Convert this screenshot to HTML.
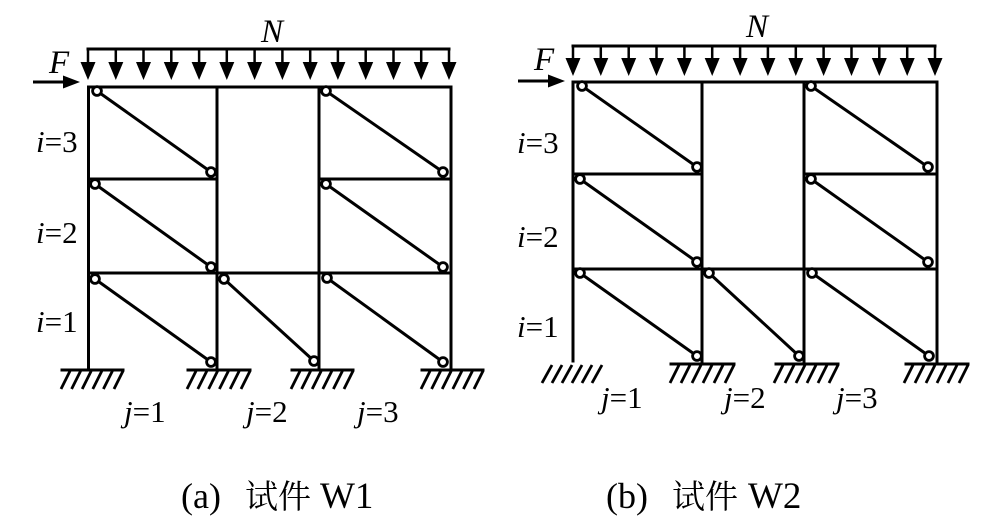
<!DOCTYPE html>
<html>
<head>
<meta charset="utf-8">
<style>
  html, body { margin:0; padding:0; background:#fff; }
  svg { display:block; }
  text { font-family: "Liberation Serif", "Noto Serif CJK SC", serif; fill:#000; }
  .cjk { font-family: "Noto Serif CJK SC", "Noto Sans CJK SC", serif; }
</style>
</head>
<body>
<svg width="1005" height="525" viewBox="0 0 1005 525" xmlns="http://www.w3.org/2000/svg">
  <!-- ================= LEFT FIGURE (W1) ================= -->
  <g stroke="#000" stroke-width="3" fill="none" stroke-linecap="square">
    <line x1="88" y1="49" x2="449" y2="49"/>
    <line x1="88.5" y1="87" x2="451" y2="87"/>
    <line x1="88.5" y1="87" x2="88.5" y2="369"/>
    <line x1="217" y1="87" x2="217" y2="369"/>
    <line x1="319" y1="87" x2="319" y2="369"/>
    <line x1="451" y1="87" x2="451" y2="369"/>
    <line x1="88.5" y1="179" x2="217" y2="179"/>
    <line x1="319" y1="179" x2="451" y2="179"/>
    <line x1="88.5" y1="273" x2="451" y2="273"/>
    <line x1="62" y1="370" x2="123" y2="370"/>
    <line x1="188" y1="370" x2="250" y2="370"/>
    <line x1="292" y1="370" x2="353" y2="370"/>
    <line x1="422" y1="370" x2="483" y2="370"/>
  </g>
  <g stroke="#000" stroke-width="2.5" fill="#000">
    <line x1="88" y1="49" x2="88" y2="66"/><polygon stroke="none" points="80.5,62 95.5,62 88,80"/>
    <line x1="115.8" y1="49" x2="115.8" y2="66"/><polygon stroke="none" points="108.3,62 123.3,62 115.8,80"/>
    <line x1="143.5" y1="49" x2="143.5" y2="66"/><polygon stroke="none" points="136,62 151,62 143.5,80"/>
    <line x1="171.3" y1="49" x2="171.3" y2="66"/><polygon stroke="none" points="163.8,62 178.8,62 171.3,80"/>
    <line x1="199.1" y1="49" x2="199.1" y2="66"/><polygon stroke="none" points="191.6,62 206.6,62 199.1,80"/>
    <line x1="226.8" y1="49" x2="226.8" y2="66"/><polygon stroke="none" points="219.3,62 234.3,62 226.8,80"/>
    <line x1="254.6" y1="49" x2="254.6" y2="66"/><polygon stroke="none" points="247.1,62 262.1,62 254.6,80"/>
    <line x1="282.4" y1="49" x2="282.4" y2="66"/><polygon stroke="none" points="274.9,62 289.9,62 282.4,80"/>
    <line x1="310.2" y1="49" x2="310.2" y2="66"/><polygon stroke="none" points="302.7,62 317.7,62 310.2,80"/>
    <line x1="337.9" y1="49" x2="337.9" y2="66"/><polygon stroke="none" points="330.4,62 345.4,62 337.9,80"/>
    <line x1="365.7" y1="49" x2="365.7" y2="66"/><polygon stroke="none" points="358.2,62 373.2,62 365.7,80"/>
    <line x1="393.5" y1="49" x2="393.5" y2="66"/><polygon stroke="none" points="386,62 401,62 393.5,80"/>
    <line x1="421.2" y1="49" x2="421.2" y2="66"/><polygon stroke="none" points="413.7,62 428.7,62 421.2,80"/>
    <line x1="449" y1="49" x2="449" y2="66"/><polygon stroke="none" points="441.5,62 456.5,62 449,80"/>
  </g>
  <line x1="33" y1="82" x2="68" y2="82" stroke="#000" stroke-width="3"/>
  <polygon points="63,75.5 63,88.5 80,82" fill="#000"/>
  <g stroke="#000" stroke-width="2.8">
    <line x1="70" y1="371" x2="61" y2="389"/><line x1="80.6" y1="371" x2="71.6" y2="389"/><line x1="91.2" y1="371" x2="82.2" y2="389"/><line x1="101.8" y1="371" x2="92.8" y2="389"/><line x1="112.4" y1="371" x2="103.4" y2="389"/><line x1="123" y1="371" x2="114" y2="389"/>
    <line x1="196" y1="371" x2="187" y2="389"/><line x1="206.8" y1="371" x2="197.8" y2="389"/><line x1="217.6" y1="371" x2="208.6" y2="389"/><line x1="228.4" y1="371" x2="219.4" y2="389"/><line x1="239.2" y1="371" x2="230.2" y2="389"/><line x1="250" y1="371" x2="241" y2="389"/>
    <line x1="300" y1="371" x2="291" y2="389"/><line x1="310.6" y1="371" x2="301.6" y2="389"/><line x1="321.2" y1="371" x2="312.2" y2="389"/><line x1="331.8" y1="371" x2="322.8" y2="389"/><line x1="342.4" y1="371" x2="333.4" y2="389"/><line x1="353" y1="371" x2="344" y2="389"/>
    <line x1="430" y1="371" x2="421" y2="389"/><line x1="440.6" y1="371" x2="431.6" y2="389"/><line x1="451.2" y1="371" x2="442.2" y2="389"/><line x1="461.8" y1="371" x2="452.8" y2="389"/><line x1="472.4" y1="371" x2="463.4" y2="389"/><line x1="483" y1="371" x2="474" y2="389"/>
  </g>
  <g stroke="#000" stroke-width="3">
    <line x1="97" y1="91" x2="211" y2="172"/>
    <line x1="326" y1="91" x2="443" y2="172"/>
    <line x1="95" y1="184" x2="211" y2="267"/>
    <line x1="326" y1="184" x2="443" y2="267"/>
    <line x1="95" y1="279" x2="211" y2="362"/>
    <line x1="224" y1="279" x2="314" y2="361"/>
    <line x1="327" y1="278" x2="443" y2="362"/>
  </g>
  <g stroke="#000" stroke-width="2.8" fill="#fff">
    <circle cx="97" cy="91" r="4.4"/><circle cx="211" cy="172" r="4.4"/>
    <circle cx="326" cy="91" r="4.4"/><circle cx="443" cy="172" r="4.4"/>
    <circle cx="95" cy="184" r="4.4"/><circle cx="211" cy="267" r="4.4"/>
    <circle cx="326" cy="184" r="4.4"/><circle cx="443" cy="267" r="4.4"/>
    <circle cx="95" cy="279" r="4.4"/><circle cx="211" cy="362" r="4.4"/>
    <circle cx="224" cy="279" r="4.4"/><circle cx="314" cy="361" r="4.4"/>
    <circle cx="327" cy="278" r="4.4"/><circle cx="443" cy="362" r="4.4"/>
  </g>
  <text x="261" y="42" font-size="33" font-style="italic">N</text>
  <text x="49" y="73" font-size="33" font-style="italic">F</text>
  <text x="36" y="152" font-size="31"><tspan font-style="italic">i</tspan>=3</text>
  <text x="36" y="243" font-size="31"><tspan font-style="italic">i</tspan>=2</text>
  <text x="36" y="332" font-size="31"><tspan font-style="italic">i</tspan>=1</text>
  <text x="124" y="422" font-size="31"><tspan font-style="italic">j</tspan>=1</text>
  <text x="246" y="422" font-size="31"><tspan font-style="italic">j</tspan>=2</text>
  <text x="357" y="422" font-size="31"><tspan font-style="italic">j</tspan>=3</text>

  <!-- ================= RIGHT FIGURE (W2) ================= -->
  <g stroke="#000" stroke-width="3" fill="none" stroke-linecap="square">
    <line x1="573" y1="46" x2="935" y2="46"/>
    <line x1="573" y1="82" x2="937" y2="82"/>
    <line x1="573" y1="82" x2="573" y2="361"/>
    <line x1="702" y1="82" x2="702" y2="363"/>
    <line x1="804" y1="82" x2="804" y2="363"/>
    <line x1="937" y1="82" x2="937" y2="363"/>
    <line x1="573" y1="174" x2="702" y2="174"/>
    <line x1="804" y1="174" x2="937" y2="174"/>
    <line x1="573" y1="269" x2="937" y2="269"/>
    <line x1="671" y1="364" x2="734" y2="364"/>
    <line x1="776" y1="364" x2="838" y2="364"/>
    <line x1="906" y1="364" x2="968" y2="364"/>
  </g>
  <g stroke="#000" stroke-width="2.5" fill="#000">
    <line x1="573" y1="46" x2="573" y2="62"/><polygon stroke="none" points="565.5,58 580.5,58 573,76"/>
    <line x1="600.8" y1="46" x2="600.8" y2="62"/><polygon stroke="none" points="593.3,58 608.3,58 600.8,76"/>
    <line x1="628.7" y1="46" x2="628.7" y2="62"/><polygon stroke="none" points="621.2,58 636.2,58 628.7,76"/>
    <line x1="656.5" y1="46" x2="656.5" y2="62"/><polygon stroke="none" points="649,58 664,58 656.5,76"/>
    <line x1="684.4" y1="46" x2="684.4" y2="62"/><polygon stroke="none" points="676.9,58 691.9,58 684.4,76"/>
    <line x1="712.2" y1="46" x2="712.2" y2="62"/><polygon stroke="none" points="704.7,58 719.7,58 712.2,76"/>
    <line x1="740.1" y1="46" x2="740.1" y2="62"/><polygon stroke="none" points="732.6,58 747.6,58 740.1,76"/>
    <line x1="767.9" y1="46" x2="767.9" y2="62"/><polygon stroke="none" points="760.4,58 775.4,58 767.9,76"/>
    <line x1="795.8" y1="46" x2="795.8" y2="62"/><polygon stroke="none" points="788.3,58 803.3,58 795.8,76"/>
    <line x1="823.6" y1="46" x2="823.6" y2="62"/><polygon stroke="none" points="816.1,58 831.1,58 823.6,76"/>
    <line x1="851.5" y1="46" x2="851.5" y2="62"/><polygon stroke="none" points="844,58 859,58 851.5,76"/>
    <line x1="879.3" y1="46" x2="879.3" y2="62"/><polygon stroke="none" points="871.8,58 886.8,58 879.3,76"/>
    <line x1="907.2" y1="46" x2="907.2" y2="62"/><polygon stroke="none" points="899.7,58 914.7,58 907.2,76"/>
    <line x1="935" y1="46" x2="935" y2="62"/><polygon stroke="none" points="927.5,58 942.5,58 935,76"/>
  </g>
  <line x1="518" y1="81" x2="553" y2="81" stroke="#000" stroke-width="3"/>
  <polygon points="548,74.5 548,87.5 565,81" fill="#000"/>
  <g stroke="#000" stroke-width="2.8">
    <line x1="552" y1="365" x2="542" y2="383"/><line x1="562" y1="365" x2="552" y2="383"/><line x1="572" y1="365" x2="562" y2="383"/><line x1="582" y1="365" x2="572" y2="383"/><line x1="592" y1="365" x2="582" y2="383"/><line x1="602" y1="365" x2="592" y2="383"/>
    <line x1="679" y1="365" x2="670" y2="383"/><line x1="690" y1="365" x2="681" y2="383"/><line x1="701" y1="365" x2="692" y2="383"/><line x1="712" y1="365" x2="703" y2="383"/><line x1="723" y1="365" x2="714" y2="383"/><line x1="734" y1="365" x2="725" y2="383"/>
    <line x1="783" y1="365" x2="774" y2="383"/><line x1="794" y1="365" x2="785" y2="383"/><line x1="805" y1="365" x2="796" y2="383"/><line x1="816" y1="365" x2="807" y2="383"/><line x1="827" y1="365" x2="818" y2="383"/><line x1="838" y1="365" x2="829" y2="383"/>
    <line x1="913" y1="365" x2="904" y2="383"/><line x1="924" y1="365" x2="915" y2="383"/><line x1="935" y1="365" x2="926" y2="383"/><line x1="946" y1="365" x2="937" y2="383"/><line x1="957" y1="365" x2="948" y2="383"/><line x1="968" y1="365" x2="959" y2="383"/>
  </g>
  <g stroke="#000" stroke-width="3">
    <line x1="582" y1="86" x2="697" y2="167"/>
    <line x1="811" y1="86" x2="928" y2="167"/>
    <line x1="580" y1="179" x2="697" y2="262"/>
    <line x1="811" y1="179" x2="928" y2="262"/>
    <line x1="580" y1="273" x2="697" y2="356"/>
    <line x1="709" y1="273" x2="799" y2="356"/>
    <line x1="812" y1="273" x2="929" y2="356"/>
  </g>
  <g stroke="#000" stroke-width="2.8" fill="#fff">
    <circle cx="582" cy="86" r="4.4"/><circle cx="697" cy="167" r="4.4"/>
    <circle cx="811" cy="86" r="4.4"/><circle cx="928" cy="167" r="4.4"/>
    <circle cx="580" cy="179" r="4.4"/><circle cx="697" cy="262" r="4.4"/>
    <circle cx="811" cy="179" r="4.4"/><circle cx="928" cy="262" r="4.4"/>
    <circle cx="580" cy="273" r="4.4"/><circle cx="697" cy="356" r="4.4"/>
    <circle cx="709" cy="273" r="4.4"/><circle cx="799" cy="356" r="4.4"/>
    <circle cx="812" cy="273" r="4.4"/><circle cx="929" cy="356" r="4.4"/>
  </g>
  <text x="746" y="37" font-size="33" font-style="italic">N</text>
  <text x="534" y="70" font-size="33" font-style="italic">F</text>
  <text x="517" y="153" font-size="31"><tspan font-style="italic">i</tspan>=3</text>
  <text x="517" y="247" font-size="31"><tspan font-style="italic">i</tspan>=2</text>
  <text x="517" y="337" font-size="31"><tspan font-style="italic">i</tspan>=1</text>
  <text x="601" y="408" font-size="31"><tspan font-style="italic">j</tspan>=1</text>
  <text x="724" y="408" font-size="31"><tspan font-style="italic">j</tspan>=2</text>
  <text x="836" y="408" font-size="31"><tspan font-style="italic">j</tspan>=3</text>

  <!-- captions -->
  <text x="181" y="508" font-size="36">(a)</text>
  <text x="245" y="508" font-size="33" class="cjk">试件</text>
  <text x="320" y="508" font-size="37">W1</text>
  <text x="606" y="508" font-size="36">(b)</text>
  <text x="672" y="508" font-size="33" class="cjk">试件</text>
  <text x="748" y="508" font-size="37">W2</text>
</svg>
</body>
</html>
